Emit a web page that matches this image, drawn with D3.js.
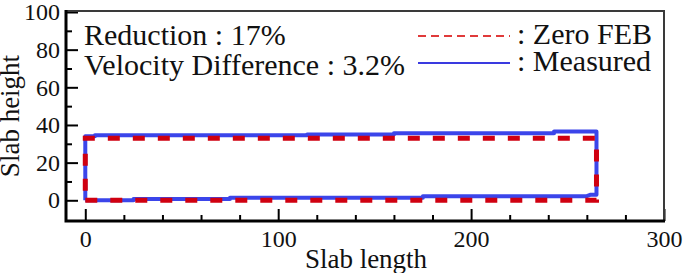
<!DOCTYPE html>
<html>
<head>
<meta charset="UTF-8">
<script src="https://d3js.org/d3.v7.min.js"></script>
</head>
<body style="margin:0">
<svg id="chart" width="683" height="273" font-family="Liberation Serif"></svg>
<script>
    // Zero FEB outline (slab length, slab height)
    const zeroX = [0, 265, 265, 0, 0];
    const zeroY = [0, 0, 33, 33, 0];

    // Measured outline, stepped
    const measX = [0, 25, 25, 75, 75, 175, 175, 260, 262, 265, 265, 243, 243, 160, 160, 115, 115, 5, 5, 0, 0];
    const measY = [0, 0, 0.7, 0.7, 1.3, 1.3, 2.2, 2.2, 3, 3, 36.5, 36.5, 35.6, 35.6, 35, 35, 34.5, 34.5, 34, 34, 0];

    const xMajor = [0, 100, 200, 300];
    const xMinor = [20, 40, 60, 80, 120, 140, 160, 180, 220, 240, 260, 280];
    const yMajor = [0, 20, 40, 60, 80, 100];
    const yMinor = [10, 30, 50, 70, 90];

    const infoLines = ["Reduction : 17%", "Velocity Difference : 3.2%"];
    const legendNames = [": Zero FEB", ": Measured"];

    const svg = d3.select("#chart");

    const x = d3.scaleLinear().domain([-10, 300]).range([66, 664]);
    const y = d3.scaleLinear().domain([-11, 100]).range([221, 12]);

    // measured line first, dashed zero FEB drawn over it
    const line = d3.line().x(d => x(d[0])).y(d => y(d[1]));

    svg.append("path")
        .attr("d", line(d3.zip(measX, measY)))
        .attr("fill", "none")
        .attr("stroke", "#3b45ea")
        .attr("stroke-width", 4)
        .attr("stroke-linejoin", "round");

    svg.append("path")
        .attr("d", line(d3.zip(zeroX, zeroY)))
        .attr("fill", "none")
        .attr("stroke", "#d00010")
        .attr("stroke-width", 5)
        .attr("stroke-dasharray", "12,13");

    // axes, ticks point inward
    const axes = [
        svg.append("g").attr("transform", "translate(0,221)")
            .call(d3.axisBottom(x).tickValues(xMajor).tickSizeInner(-12).tickSizeOuter(0).tickPadding(9)),
        svg.append("g").attr("transform", "translate(0,221)")
            .call(d3.axisBottom(x).tickValues(xMinor).tickSizeInner(-6).tickSizeOuter(0).tickFormat("")),
        svg.append("g").attr("transform", "translate(66,0)")
            .call(d3.axisLeft(y).tickValues(yMajor).tickSizeInner(-12).tickSizeOuter(0).tickPadding(6)),
        svg.append("g").attr("transform", "translate(66,0)")
            .call(d3.axisLeft(y).tickValues(yMinor).tickSizeInner(-6).tickSizeOuter(0).tickFormat(""))
    ];
    axes.forEach(g => g.attr("font-family", "Liberation Serif").attr("font-size", 24));

    svg.selectAll(".domain").remove();
    svg.selectAll(".tick line").attr("stroke", "#000").attr("stroke-width", 2);

    // frame
    svg.append("path")
        .attr("d", "M66,221V11H664V221")
        .attr("fill", "none")
        .attr("stroke", "#3a3a3a")
        .attr("stroke-width", 2);
    svg.append("path")
        .attr("d", "M66,10V221H665")
        .attr("fill", "none")
        .attr("stroke", "#000")
        .attr("stroke-width", 3);

    // axis titles
    svg.append("text")
        .attr("x", 366)
        .attr("y", 268)
        .attr("text-anchor", "middle")
        .attr("font-size", 27)
        .text("Slab length");

    svg.append("text")
        .attr("transform", "translate(19,116) rotate(-90)")
        .attr("text-anchor", "middle")
        .attr("font-size", 27)
        .text("Slab height");

    // annotation text
    svg.selectAll(".info")
        .data(infoLines)
        .enter().append("text")
        .attr("class", "info")
        .attr("x", 84)
        .attr("y", (d, i) => 45 + i * 30)
        .attr("font-size", 30)
        .text(d => d);

    // legend
    const legendColors = ["#e03a3a", "#3a3ae0"];
    const legendDash = ["8,5", "none"];
    const legend = svg.selectAll(".legend")
        .data(legendNames)
        .enter().append("g")
        .attr("class", "legend")
        .attr("transform", (d, i) => `translate(0,${i * 27})`);

    legend.append("line")
        .attr("x1", 418).attr("x2", 510)
        .attr("y1", 36).attr("y2", 36)
        .attr("stroke", (d, i) => legendColors[i])
        .attr("stroke-width", 2)
        .attr("stroke-dasharray", (d, i) => legendDash[i]);

    legend.append("text")
        .attr("x", 517)
        .attr("y", 44)
        .attr("font-size", 30)
        .text(d => d);

    svg.selectAll("text")
        .attr("font-family", "Liberation Serif")
        .style("font-family", "'Liberation Serif'")
        .attr("fill", "#111");
</script>
</body>
</html>
